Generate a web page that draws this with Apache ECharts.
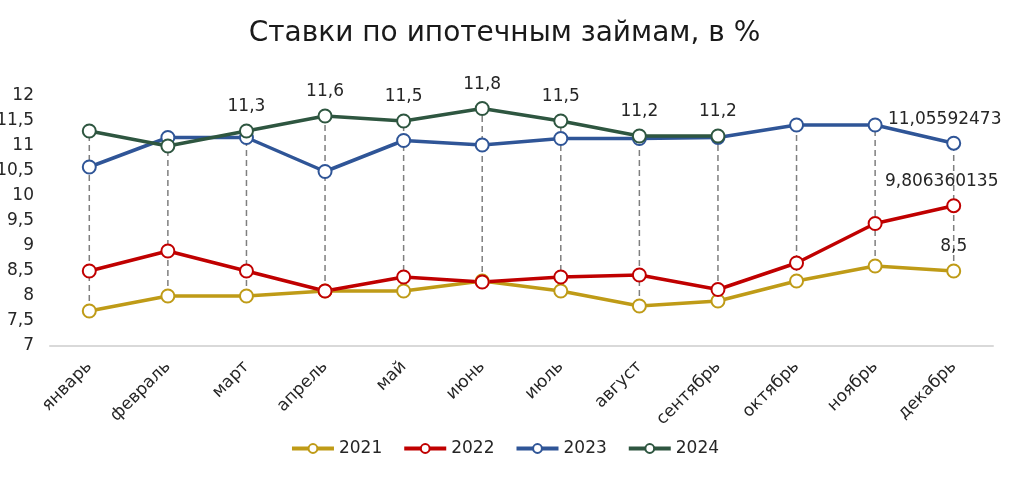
<!DOCTYPE html>
<html><head><meta charset="utf-8">
<script src="https://cdn.jsdelivr.net/npm/echarts@6/dist/echarts.min.js"></script>
<style>html,body{margin:0;padding:0;background:#fff}#c{width:1009px;height:483px}</style>
</head><body><div id="c"></div>
<script>
const months = ['январь','февраль','март','апрель','май','июнь','июль','август','сентябрь','октябрь','ноябрь','декабрь'];
const yTicks = [7, 7.5, 8, 8.5, 9, 9.5, 10, 10.5, 11, 11.5, 12];
const y2021 = [7.7, 8.0, 8.0, 8.1, 8.1, 8.3, 8.1, 7.8, 7.9, 8.3, 8.6, 8.5];
const y2022 = [8.5, 8.9, 8.5, 8.1, 8.38, 8.28, 8.38, 8.42, 8.13, 8.66, 9.45, 9.806360135];
const y2023 = [10.58, 11.17, 11.17, 10.49, 11.11, 11.02, 11.15, 11.15, 11.17, 11.42, 11.42, 11.05592473];
const y2024 = [11.3, 11.0, 11.3, 11.6, 11.5, 11.75, 11.5, 11.2, 11.2, null, null, null];
const labels2024 = [null, null, '11,3', '11,6', '11,5', '11,8', '11,5', '11,2', '11,2', null, null, null];

const FONT = 'DejaVu Sans';
const TXT = '#262626';
const fmt = v => String(v).replace('.', ',');
const all = [y2021, y2022, y2023, y2024];
const dropData = months.map((m, i) => {
  const vals = all.map(a => a[i]).filter(v => v != null);
  return [i, Math.min(...vals), Math.max(...vals)];
});

function mkSeries(name, data, color, labelFn, offset) {
  return {
    name, type: 'line', data, z: 3,
    symbol: 'circle', symbolSize: 13,
    lineStyle: { color, width: 3.5 },
    itemStyle: { color: '#fff', borderColor: color, borderWidth: 2 },
    label: {
      show: true, position: 'top', distance: 8, offset: offset || [0, 0],
      fontFamily: FONT, fontSize: 17, color: TXT,
      formatter: p => labelFn(p)
    },
    emphasis: { disabled: true }
  };
}
const lastOnly = p => p.dataIndex === 11 ? fmt(p.value) : '';

const chart = echarts.init(document.getElementById('c'));
chart.setOption({
  animation: false,
  title: { text: 'Ставки по ипотечным займам, в %', left: 'center', top: 15,
    textStyle: { fontFamily: FONT, fontSize: 28, fontWeight: 'normal', color: '#1a1a1a' } },
  grid: { left: 50, right: 16, top: 96, bottom: 137, outerBoundsMode: 'none', containLabel: false },
  legend: { bottom: 21, left: 'center', itemWidth: 42, itemHeight: 11, itemGap: 20,
    lineStyle: { width: 4 },
    textStyle: { fontFamily: FONT, fontSize: 17, color: TXT },
    data: ['2021', '2022', '2023', '2024'] },
  xAxis: { type: 'category', data: months, boundaryGap: true,
    axisLine: { lineStyle: { color: '#d9d9d9', width: 2 } }, axisTick: { show: false },
    axisLabel: { rotate: 45, interval: 0, fontFamily: FONT, fontSize: 17, color: TXT, margin: 18 } },
  yAxis: { type: 'value', min: 7, max: 12, interval: 0.5,
    splitLine: { show: false }, axisLine: { show: false }, axisTick: { show: false },
    axisLabel: { fontFamily: FONT, fontSize: 17, color: TXT, margin: 16,
      formatter: v => yTicks.includes(v) ? fmt(v) : '' } },
  series: [
    { type: 'custom', name: 'drop', z: 1, silent: true, data: dropData,
      renderItem: (params, api) => {
        const a = api.coord([api.value(0), api.value(1)]);
        const b = api.coord([api.value(0), api.value(2)]);
        return { type: 'line', shape: { x1: a[0], y1: a[1], x2: b[0], y2: b[1] },
          style: { stroke: '#7f7f7f', lineWidth: 1.5, lineDash: [6, 4] } };
      } },
    mkSeries('2021', y2021, '#BF9B17', lastOnly),
    mkSeries('2022', y2022, '#C00000', lastOnly, [-12, 0]),
    mkSeries('2023', y2023, '#2F5597', lastOnly, [-9, 0]),
    mkSeries('2024', y2024, '#2E5640', p => labels2024[p.dataIndex] || '')
  ]
});
</script></body></html>
